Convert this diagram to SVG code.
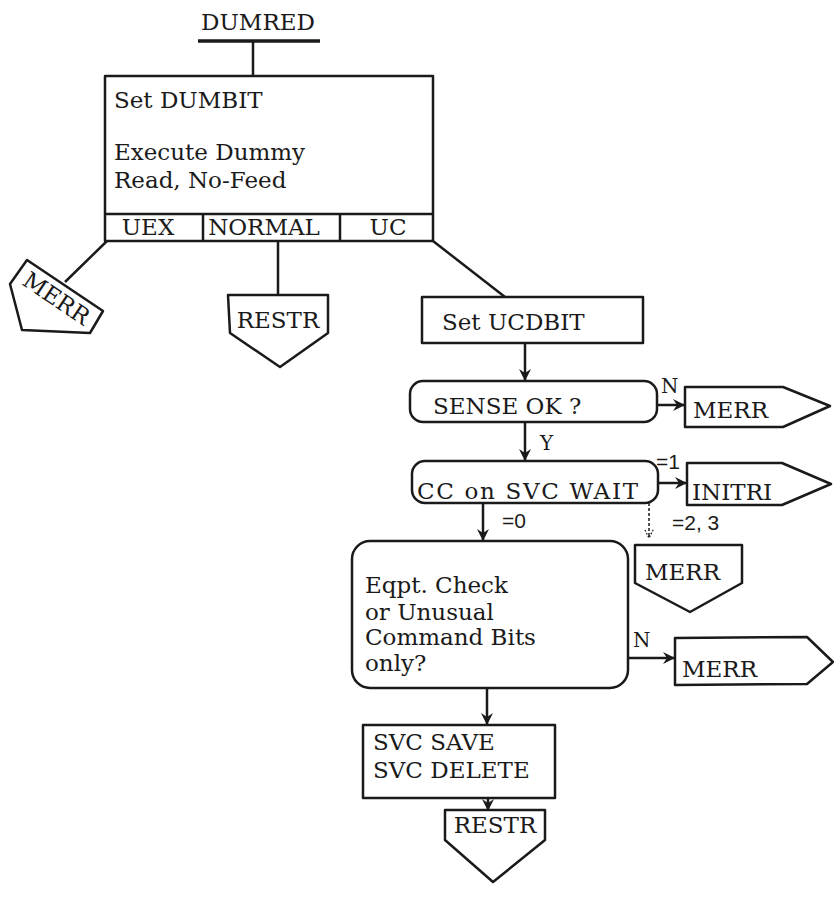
<svg xmlns="http://www.w3.org/2000/svg" width="834" height="912" viewBox="0 0 834 912">
<defs>
<style>
.s{fill:none;stroke:#1a1a1a;stroke-width:2.5;stroke-linejoin:round}
.b{fill:#fff;stroke:#1a1a1a;stroke-width:2.5;stroke-linejoin:round}
.t{font-family:"DejaVu Serif",serif;font-size:23px;fill:#1a1a1a}
.l{font-family:"DejaVu Serif",serif;font-size:20px;fill:#1a1a1a}
.n{font-family:"Liberation Sans",sans-serif;font-size:21px;fill:#1a1a1a}
.c{text-anchor:middle}
</style>
<marker id="ah" viewBox="0 0 12 12" refX="11" refY="6" markerWidth="12" markerHeight="12" markerUnits="userSpaceOnUse" orient="auto">
<path d="M0,0 L12,6 L0,12 L4,6 z" fill="#1a1a1a"/>
</marker>
<marker id="ahd" viewBox="0 0 12 12" refX="11" refY="6" markerWidth="10" markerHeight="10" markerUnits="userSpaceOnUse" orient="auto">
<path d="M1,1 L11,6 L1,11" fill="none" stroke="#1a1a1a" stroke-width="1.5" stroke-dasharray="2,2"/>
</marker>
</defs>
<rect width="834" height="912" fill="#fff"/>

<g id="connectors">
<line class="s" x1="253" y1="41" x2="253" y2="76"/>
<line class="s" x1="107" y1="241" x2="65" y2="282"/>
<line class="s" x1="278" y1="241" x2="278" y2="295"/>
<line class="s" x1="433" y1="241" x2="505" y2="297"/>
<line class="s" x1="525" y1="343" x2="525" y2="380" marker-end="url(#ah)"/>
<line class="s" x1="525" y1="422" x2="525" y2="460" marker-end="url(#ah)"/>
<text class="l" x="540" y="450">Y</text>
<line class="s" x1="657" y1="405" x2="684" y2="405" marker-end="url(#ah)"/>
<text class="l" x="661" y="393">N</text>
<line class="s" x1="658" y1="483" x2="686" y2="483" marker-end="url(#ah)"/>
<text class="n" x="656" y="469">=1</text>
<line class="s" x1="483" y1="503" x2="483" y2="540" marker-end="url(#ah)"/>
<text class="n" x="502" y="528">=0</text>
<line x1="649" y1="503" x2="649" y2="538" stroke="#1a1a1a" stroke-width="1.5" stroke-dasharray="3,2" marker-end="url(#ahd)"/>
<text class="n" x="672" y="530">=2, 3</text>
<line class="s" x1="628" y1="658" x2="674" y2="658" marker-end="url(#ah)"/>
<text class="l" x="633" y="647">N</text>
<line class="s" x1="487" y1="688" x2="487" y2="724" marker-end="url(#ah)"/>
<line class="s" x1="488" y1="798" x2="488" y2="810" marker-end="url(#ah)"/>
</g>

<g id="dumred">
<text class="t c" x="258" y="30" font-size="24">DUMRED</text>
<line x1="198" y1="41" x2="320" y2="41" stroke="#1a1a1a" stroke-width="3.5"/>
</g>

<g id="main">
<rect class="b" x="105" y="76" width="328" height="165"/>
<line class="s" x1="105" y1="214" x2="433" y2="214"/>
<line class="s" x1="203" y1="214" x2="203" y2="241"/>
<line class="s" x1="340" y1="214" x2="340" y2="241"/>
<text class="t" x="114" y="108">Set DUMBIT</text>
<text class="t" x="114" y="160">Execute Dummy</text>
<text class="t" x="114" y="188">Read, No-Feed</text>
<text class="t c" x="148" y="235">UEX</text>
<text class="t c" x="264" y="235">NORMAL</text>
<text class="t c" x="388" y="235">UC</text>
</g>

<g id="merr-uex">
<polygon class="b" points="27,260 103,311 90,333 22,330 10,284"/>
<text class="t c" x="52" y="305" transform="rotate(34 52 305)">MERR</text>
</g>

<g id="restr-normal">
<polygon class="b" points="228,295 328,295 328,333 280,367 230,333"/>
<text class="t c" x="278" y="328">RESTR</text>
</g>

<g id="set-ucdbit">
<rect class="b" x="422" y="297" width="221" height="46"/>
<text class="t" x="442" y="330">Set UCDBIT</text>
</g>

<g id="sense-ok">
<rect class="b" x="410" y="381" width="247" height="41" rx="13"/>
<text class="t" x="433" y="414">SENSE OK ?</text>
</g>

<g id="merr-sense">
<polygon class="b" points="685,387 783,387 830,406 783,427 685,427"/>
<text class="t" x="693" y="418">MERR</text>
</g>

<g id="cc-wait">
<rect class="b" x="412" y="461" width="246" height="42" rx="13"/>
<text class="t" x="417" y="499" textLength="221">CC on SVC WAIT</text>
</g>

<g id="initri">
<polygon class="b" points="687,463 782,463 831,484 782,505 687,505"/>
<text class="t" x="692" y="500">INITRI</text>
</g>

<g id="merr-cc">
<polygon class="b" points="635,545 742,545 742,583 690,612 635,583"/>
<text class="t" x="645" y="580">MERR</text>
</g>

<g id="eqpt">
<rect class="b" x="352" y="541" width="276" height="147" rx="18"/>
<text class="t" x="365" y="593">Eqpt. Check</text>
<text class="t" x="365" y="620">or Unusual</text>
<text class="t" x="365" y="645">Command Bits</text>
<text class="t" x="365" y="671">only?</text>
</g>

<g id="merr-eqpt">
<polygon class="b" points="675,638 807,637 833,662 807,684 675,685"/>
<text class="t" x="682" y="677">MERR</text>
</g>

<g id="svc">
<rect class="b" x="363" y="725" width="192" height="73"/>
<text class="t" x="373" y="750">SVC SAVE</text>
<text class="t" x="373" y="778">SVC DELETE</text>
</g>

<g id="restr-end">
<polygon class="b" points="445,810 545,810 545,840 493,882 445,840"/>
<text class="t c" x="495" y="833">RESTR</text>
</g>
</svg>
